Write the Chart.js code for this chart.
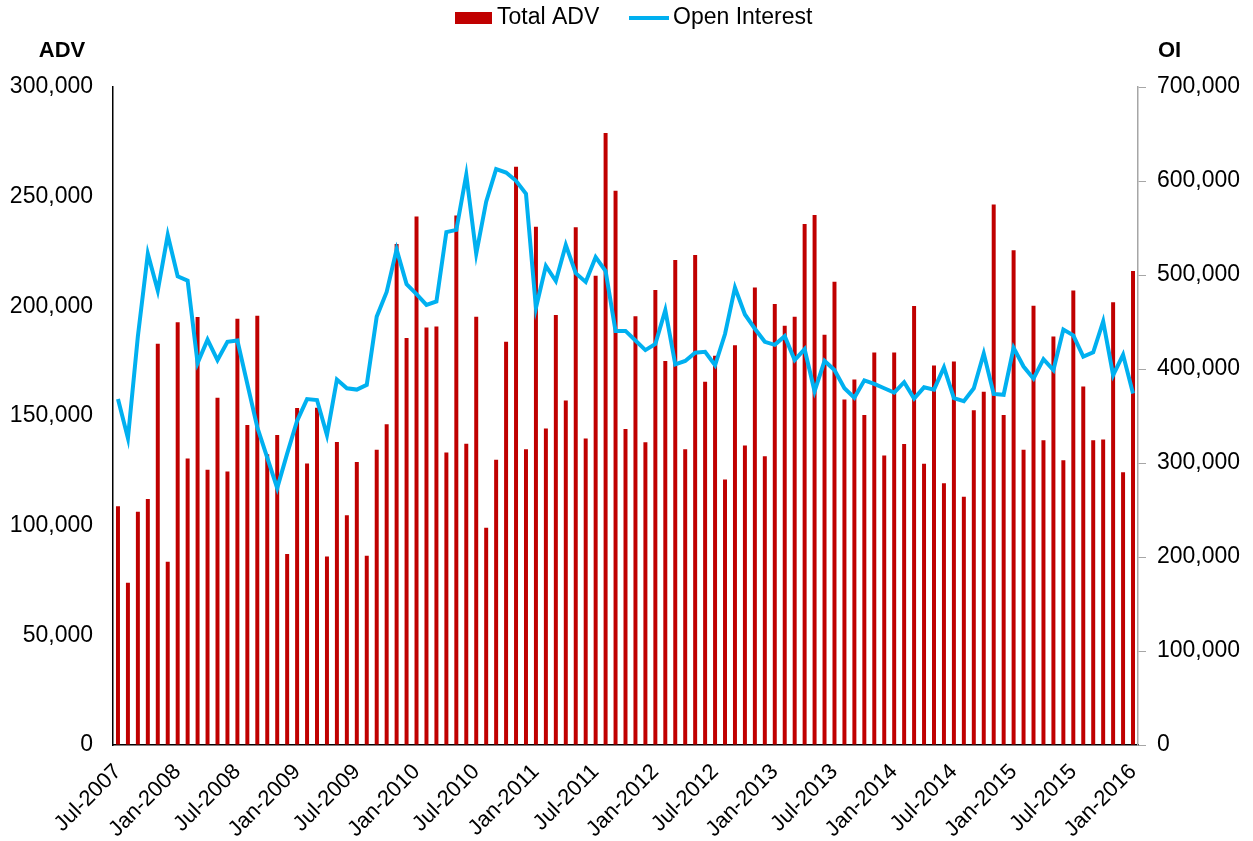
<!DOCTYPE html>
<html><head><meta charset="utf-8">
<script src="https://cdn.jsdelivr.net/npm/chart.js@4.4.1/dist/chart.umd.min.js"></script>
<style>html,body{margin:0;padding:0;background:#fff}#wrap{width:1253px;height:841px}</style>
</head><body><div id="wrap"><canvas id="c" width="1253" height="841"></canvas></div>
<script>
const MONTHS = ['Jan','Feb','Mar','Apr','May','Jun','Jul','Aug','Sep','Oct','Nov','Dec'];
const START_YEAR = 2007, START_MONTH = 6, N_MONTHS = 103;
const categories = [];
for (let i = 0; i < N_MONTHS; i++) {
  const m = START_MONTH + i;
  categories.push(MONTHS[m % 12] + '-' + (START_YEAR + Math.floor(m / 12)));
}
const totalADV = [
  108800,74000,106300,112200,182900,83500,192800,130600,195100,125500,
  158300,124700,194300,145900,195700,132600,141300,87100,153600,128400,
  153800,85900,138100,104700,129000,86300,134600,146200,228400,185600,
  241000,190400,190800,133400,241400,137300,195300,99000,130000,183900,
  263600,134800,236300,144300,196100,157100,236100,139700,213900,279000,
  252700,144100,195500,138000,207400,175100,221100,134800,223400,165600,
  177500,121100,182300,136600,208600,131600,201100,191200,195300,237500,
  241600,187000,211200,157500,166600,150400,178900,132000,178900,137200,
  200100,128200,173000,119300,174900,113200,152600,161100,246400,150400,
  225600,134600,200300,138900,186200,129800,207200,163500,138900,139300,
  201900,124300,216100
];
const openInterest = [
  368000,326400,434900,522600,483400,542500,498600,494000,406300,431200,
  409500,428900,430300,384100,338000,305600,273300,310000,344900,368000,
  367000,329700,388800,379500,378100,383200,455700,482000,527300,490300,
  479700,468200,471900,545700,548000,606700,522600,578000,612700,609000,
  600200,586400,464900,509700,493600,531900,501900,492600,519000,504200,
  440500,440500,430300,420100,426600,462600,404900,408600,417400,418300,
  404000,437200,486600,458000,442800,428900,425700,434900,409500,421100,
  376300,408600,398900,379500,369400,387900,384100,379500,374900,386000,
  368500,380500,378100,401700,368900,365700,379500,416500,373500,372600,
  422500,402600,389700,410500,398900,441900,435800,413200,417800,450600,
  393400,415100,374000
];
const ADV_MAX = 300000, ADV_STEP = 50000;
const OI_MAX = 700000, OI_STEP = 100000;
const LABEL_EVERY = 6;

const FONT = '"Liberation Sans", Arial, sans-serif';
const fmt = v => Number(v).toLocaleString('en-US');

const overlay = {
  id: 'overlay',
  afterDraw(chart) {
    const ctx = chart.ctx;
    ctx.save();
    ctx.textBaseline = 'middle';
    ctx.font = '23px ' + FONT;
    ctx.fillStyle = '#C00000';
    ctx.fillRect(455, 12, 37, 12);
    ctx.fillStyle = '#000';
    ctx.textAlign = 'left';
    ctx.fillText('Total ADV', 497, 18);
    ctx.strokeStyle = '#00B0F0';
    ctx.lineWidth = 4;
    ctx.beginPath(); ctx.moveTo(629, 18); ctx.lineTo(669, 18); ctx.stroke();
    ctx.fillText('Open Interest', 673, 18);
    ctx.font = 'bold 22px ' + FONT;
    ctx.textAlign = 'center';
    ctx.fillText('ADV', 62, 51);
    ctx.textAlign = 'left';
    ctx.fillText('OI', 1158, 51);
    ctx.restore();
  }
};

new Chart(document.getElementById('c'), {
  data: {
    labels: categories,
    datasets: [
      { type: 'line', label: 'Open Interest', data: openInterest, yAxisID: 'y1',
        borderColor: '#00B0F0', backgroundColor: '#00B0F0', borderWidth: 4,
        pointRadius: 0, tension: 0, order: 0 },
      { type: 'bar', label: 'Total ADV', data: totalADV, yAxisID: 'y',
        backgroundColor: '#C00000', borderWidth: 0,
        barPercentage: 0.4, categoryPercentage: 1.0, order: 1 }
    ]
  },
  options: {
    responsive: false,
    animation: false,
    events: [],
    layout: { padding: { top: 87, left: 0, right: 0, bottom: 0 } },
    plugins: { legend: { display: false }, tooltip: { enabled: false } },
    scales: {
      x: {
        type: 'category', offset: true,
        grid: { display: true, drawOnChartArea: false, drawTicks: false },
        border: { display: true, color: '#000', width: 1.5 },
        ticks: {
          autoSkip: false, maxRotation: 45, minRotation: 45, padding: 14,
          color: '#000', font: { size: 22, family: FONT },
          callback: (v, i) => (i % LABEL_EVERY === 0 ? categories[i] : '')
        },
        afterFit: s => { s.height = 96; }
      },
      y: {
        position: 'left', min: 0, max: ADV_MAX,
        grid: { display: true, drawOnChartArea: false, drawTicks: false },
        border: { display: true, color: '#000', width: 1.5 },
        ticks: { stepSize: ADV_STEP, padding: 20, color: '#000',
          font: { size: 23, family: FONT }, callback: fmt },
        afterFit: s => { s.width = 113; }
      },
      y1: {
        position: 'right', min: 0, max: OI_MAX,
        grid: { display: true, drawOnChartArea: false, drawTicks: true, tickLength: 8, color: '#A6A6A6' },
        border: { display: true, color: '#A6A6A6', width: 1.5 },
        ticks: { stepSize: OI_STEP, padding: 11, color: '#000',
          font: { size: 23, family: FONT }, callback: fmt },
        afterFit: s => { s.width = 115; }
      }
    }
  },
  plugins: [overlay]
});
</script>
</body></html>
